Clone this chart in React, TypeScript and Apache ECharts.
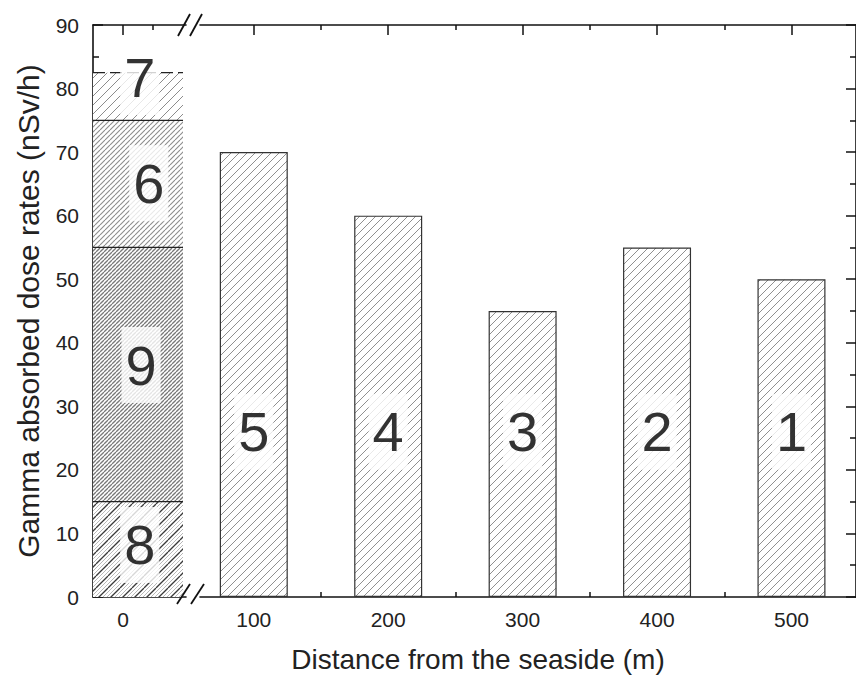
import React, { useEffect, useRef } from "react";
import * as echarts from "echarts";

// ---- data ----
const stackNames = ["8", "9", "6", "7"];
const stackValues = [15, 40, 20, 7.5];
const stackLabelX = [28, 30, 43, 28];
const stackLabelY = [8.2, 36.5, 65.1, 81.8];

const distances = [100, 200, 300, 400, 500];
const doseRates = [70, 60, 45, 55, 50];
const barLabels = ["5", "4", "3", "2", "1"];
const barLabelY = [26, 26, 26, 26, 26];

const leftMajorTicks = [0];
const leftMinorTicks = [50];
const rightMajorTicks = [100, 200, 300, 400, 500];
const rightMinorTicks = [150, 250, 350, 450];

const FONT = "Liberation Sans, Arial, Helvetica, sans-serif";

type Layer = { step: number; color: string; width: number };

function makeHatch(tile: number, layers: Layer[], bg = "#ffffff") {
  const c = document.createElement("canvas");
  c.width = tile;
  c.height = tile;
  const ctx = c.getContext("2d")!;
  ctx.fillStyle = bg;
  ctx.fillRect(0, 0, tile, tile);
  for (const l of layers) {
    ctx.strokeStyle = l.color;
    ctx.lineWidth = l.width;
    for (let k = -tile; k <= 2 * tile; k += l.step) {
      ctx.beginPath();
      ctx.moveTo(k, tile);
      ctx.lineTo(k + tile, 0);
      ctx.stroke();
    }
  }
  return { image: c, repeat: "repeat", imageWidth: tile, imageHeight: tile };
}

export default function App() {
  const ref = useRef<HTMLDivElement>(null);
  useEffect(() => {
    if (!ref.current) return;
    const chart = echarts.init(ref.current, undefined, { renderer: "svg" });

    const barPattern = makeHatch(8, [{ step: 8, color: "#909090", width: 1 }]);
    const segPatterns = [
      makeHatch(12, [
        { step: 4, color: "#b8b8b8", width: 1 },
        { step: 12, color: "#3a3a3a", width: 1.3 },
      ]),
      makeHatch(4, [{ step: 4, color: "#787878", width: 1.3 }]),
      makeHatch(5, [{ step: 5, color: "#8c8c8c", width: 1.1 }]),
      makeHatch(9, [{ step: 9, color: "#8c8c8c", width: 1 }]),
    ];

    const cum: number[] = [];
    stackValues.reduce((a, v) => {
      cum.push(a + v);
      return a + v;
    }, 0);
    const stackData = stackNames.map((n, i) => [0, cum[i] - stackValues[i], cum[i], i]);

    const axisLineStyle = { color: "#111", width: 1.6 };
    const tickLabel = { fontSize: 21, fontFamily: FONT, color: "#222" };

    const makeX = (
      gridIndex: number,
      min: number,
      max: number,
      position: string,
      ticks: number[],
      major: boolean,
      labels: boolean
    ) => ({
      type: "value",
      gridIndex,
      min,
      max,
      position,
      splitLine: { show: false },
      axisLine: { show: major, onZero: false, lineStyle: axisLineStyle },
      axisTick: {
        show: true,
        inside: true,
        length: major ? 10 : 5,
        customValues: ticks,
        lineStyle: { color: "#111", width: 1.5 },
      },
      axisLabel: labels
        ? { show: true, customValues: ticks, margin: 12, ...tickLabel }
        : { show: false },
    });

    const yAxisBase = (gridIndex: number, position: string, labels: boolean) => ({
      type: "value",
      gridIndex,
      min: 0,
      max: 90,
      interval: 10,
      position,
      splitLine: { show: false },
      axisLine: { show: true, onZero: false, lineStyle: axisLineStyle },
      axisTick: { show: true, inside: true, length: 10, lineStyle: { color: "#111", width: 1.5 } },
      minorTick: { show: true, splitNumber: 2, length: 6, lineStyle: { color: "#111", width: 1.5 } },
      minorSplitLine: { show: false },
      axisLabel: labels ? { show: true, margin: 14, ...tickLabel } : { show: false },
    });

    const labelStyle = {
      show: true,
      position: "inside",
      fontSize: 56,
      lineHeight: 56,
      fontFamily: FONT,
      color: "#000",
      backgroundColor: "#ffffff",
      padding: [10, 4, 10, 4],
      formatter: (p: any) => p.value[2],
    };

    const option: any = {
      animation: false,
      backgroundColor: "#ffffff",
      grid: [
        { left: 93, top: 25, width: 93, height: 572 },
        { left: 200, top: 25, width: 664, height: 572 },
      ],
      xAxis: [
        makeX(0, -50, 105, "bottom", leftMajorTicks, true, true),
        makeX(0, -50, 105, "bottom", leftMinorTicks, false, false),
        makeX(0, -50, 105, "top", leftMajorTicks, true, false),
        makeX(0, -50, 105, "top", leftMinorTicks, false, false),
        makeX(1, 60, 548, "bottom", rightMajorTicks, true, true),
        makeX(1, 60, 548, "bottom", rightMinorTicks, false, false),
        makeX(1, 60, 548, "top", rightMajorTicks, true, false),
        makeX(1, 60, 548, "top", rightMinorTicks, false, false),
      ],
      yAxis: [
        {
          ...yAxisBase(0, "left", true),
          name: "Gamma absorbed dose rates (nSv/h)",
          nameLocation: "middle",
          nameGap: 50,
          nameTextStyle: { fontSize: 30, fontFamily: FONT, color: "#222" },
        },
        yAxisBase(1, "right", false),
      ],
      graphic: [
        {
          type: "text",
          x: 478,
          y: 659,
          style: {
            text: "Distance from the seaside (m)",
            fontSize: 28,
            fontFamily: FONT,
            fill: "#222",
            textAlign: "center",
            textVerticalAlign: "middle",
          },
        },
        ...[
          [178, 36, 190, 14],
          [190, 36, 202, 14],
          [177, 604, 190, 584],
          [191, 604, 204, 584],
        ].map((s) => ({
          type: "line",
          z: 100,
          shape: { x1: s[0], y1: s[1], x2: s[2], y2: s[3] },
          style: { stroke: "#111", lineWidth: 1.8 },
        })),
      ],
      series: [
        {
          type: "custom",
          name: "site 0",
          xAxisIndex: 0,
          yAxisIndex: 0,
          clip: true,
          data: stackData,
          renderItem: (params: any, api: any) => {
            const i = api.value(3);
            const p0 = api.coord([api.value(0), api.value(1)]);
            const p1 = api.coord([api.value(0), api.value(2)]);
            const cs = params.coordSys;
            const rect = echarts.graphic.clipRectByRect(
              { x: p0[0] - 60, y: p1[1], width: 120, height: p0[1] - p1[1] },
              { x: cs.x, y: cs.y, width: cs.width, height: cs.height }
            );
            if (!rect) return null;
            const last = i === stackNames.length - 1;
            const lineStyle: any = { stroke: "#222", lineWidth: 1.3 };
            if (last) lineStyle.lineDash = [12, 5];
            return {
              type: "group",
              children: [
                { type: "rect", z2: 0, shape: rect, style: { fill: segPatterns[i] } },
                {
                  type: "line",
                  z2: 10,
                  shape: { x1: rect.x, y1: p1[1], x2: rect.x + rect.width, y2: p1[1] },
                  style: lineStyle,
                },
              ],
            };
          },
        },
        {
          type: "bar",
          name: "sites",
          xAxisIndex: 4,
          yAxisIndex: 1,
          barWidth: 68,
          data: distances.map((d, i) => [d, doseRates[i]]),
          itemStyle: { color: barPattern, borderColor: "#333", borderWidth: 1.2 },
        },
        {
          type: "scatter",
          z: 10,
          xAxisIndex: 0,
          yAxisIndex: 0,
          symbolSize: 0,
          silent: true,
          data: stackNames.map((n, i) => [stackLabelX[i], stackLabelY[i], n]),
          label: labelStyle,
        },
        {
          type: "scatter",
          z: 10,
          xAxisIndex: 4,
          yAxisIndex: 1,
          symbolSize: 0,
          silent: true,
          data: distances.map((d, i) => [d, barLabelY[i], barLabels[i]]),
          label: labelStyle,
        },
      ],
    };

    chart.setOption(option);
    return () => chart.dispose();
  }, []);

  return (
    <div
      ref={ref}
      style={{ position: "fixed", left: 0, top: 0, width: 856, height: 676, background: "#fff" }}
    />
  );
}
